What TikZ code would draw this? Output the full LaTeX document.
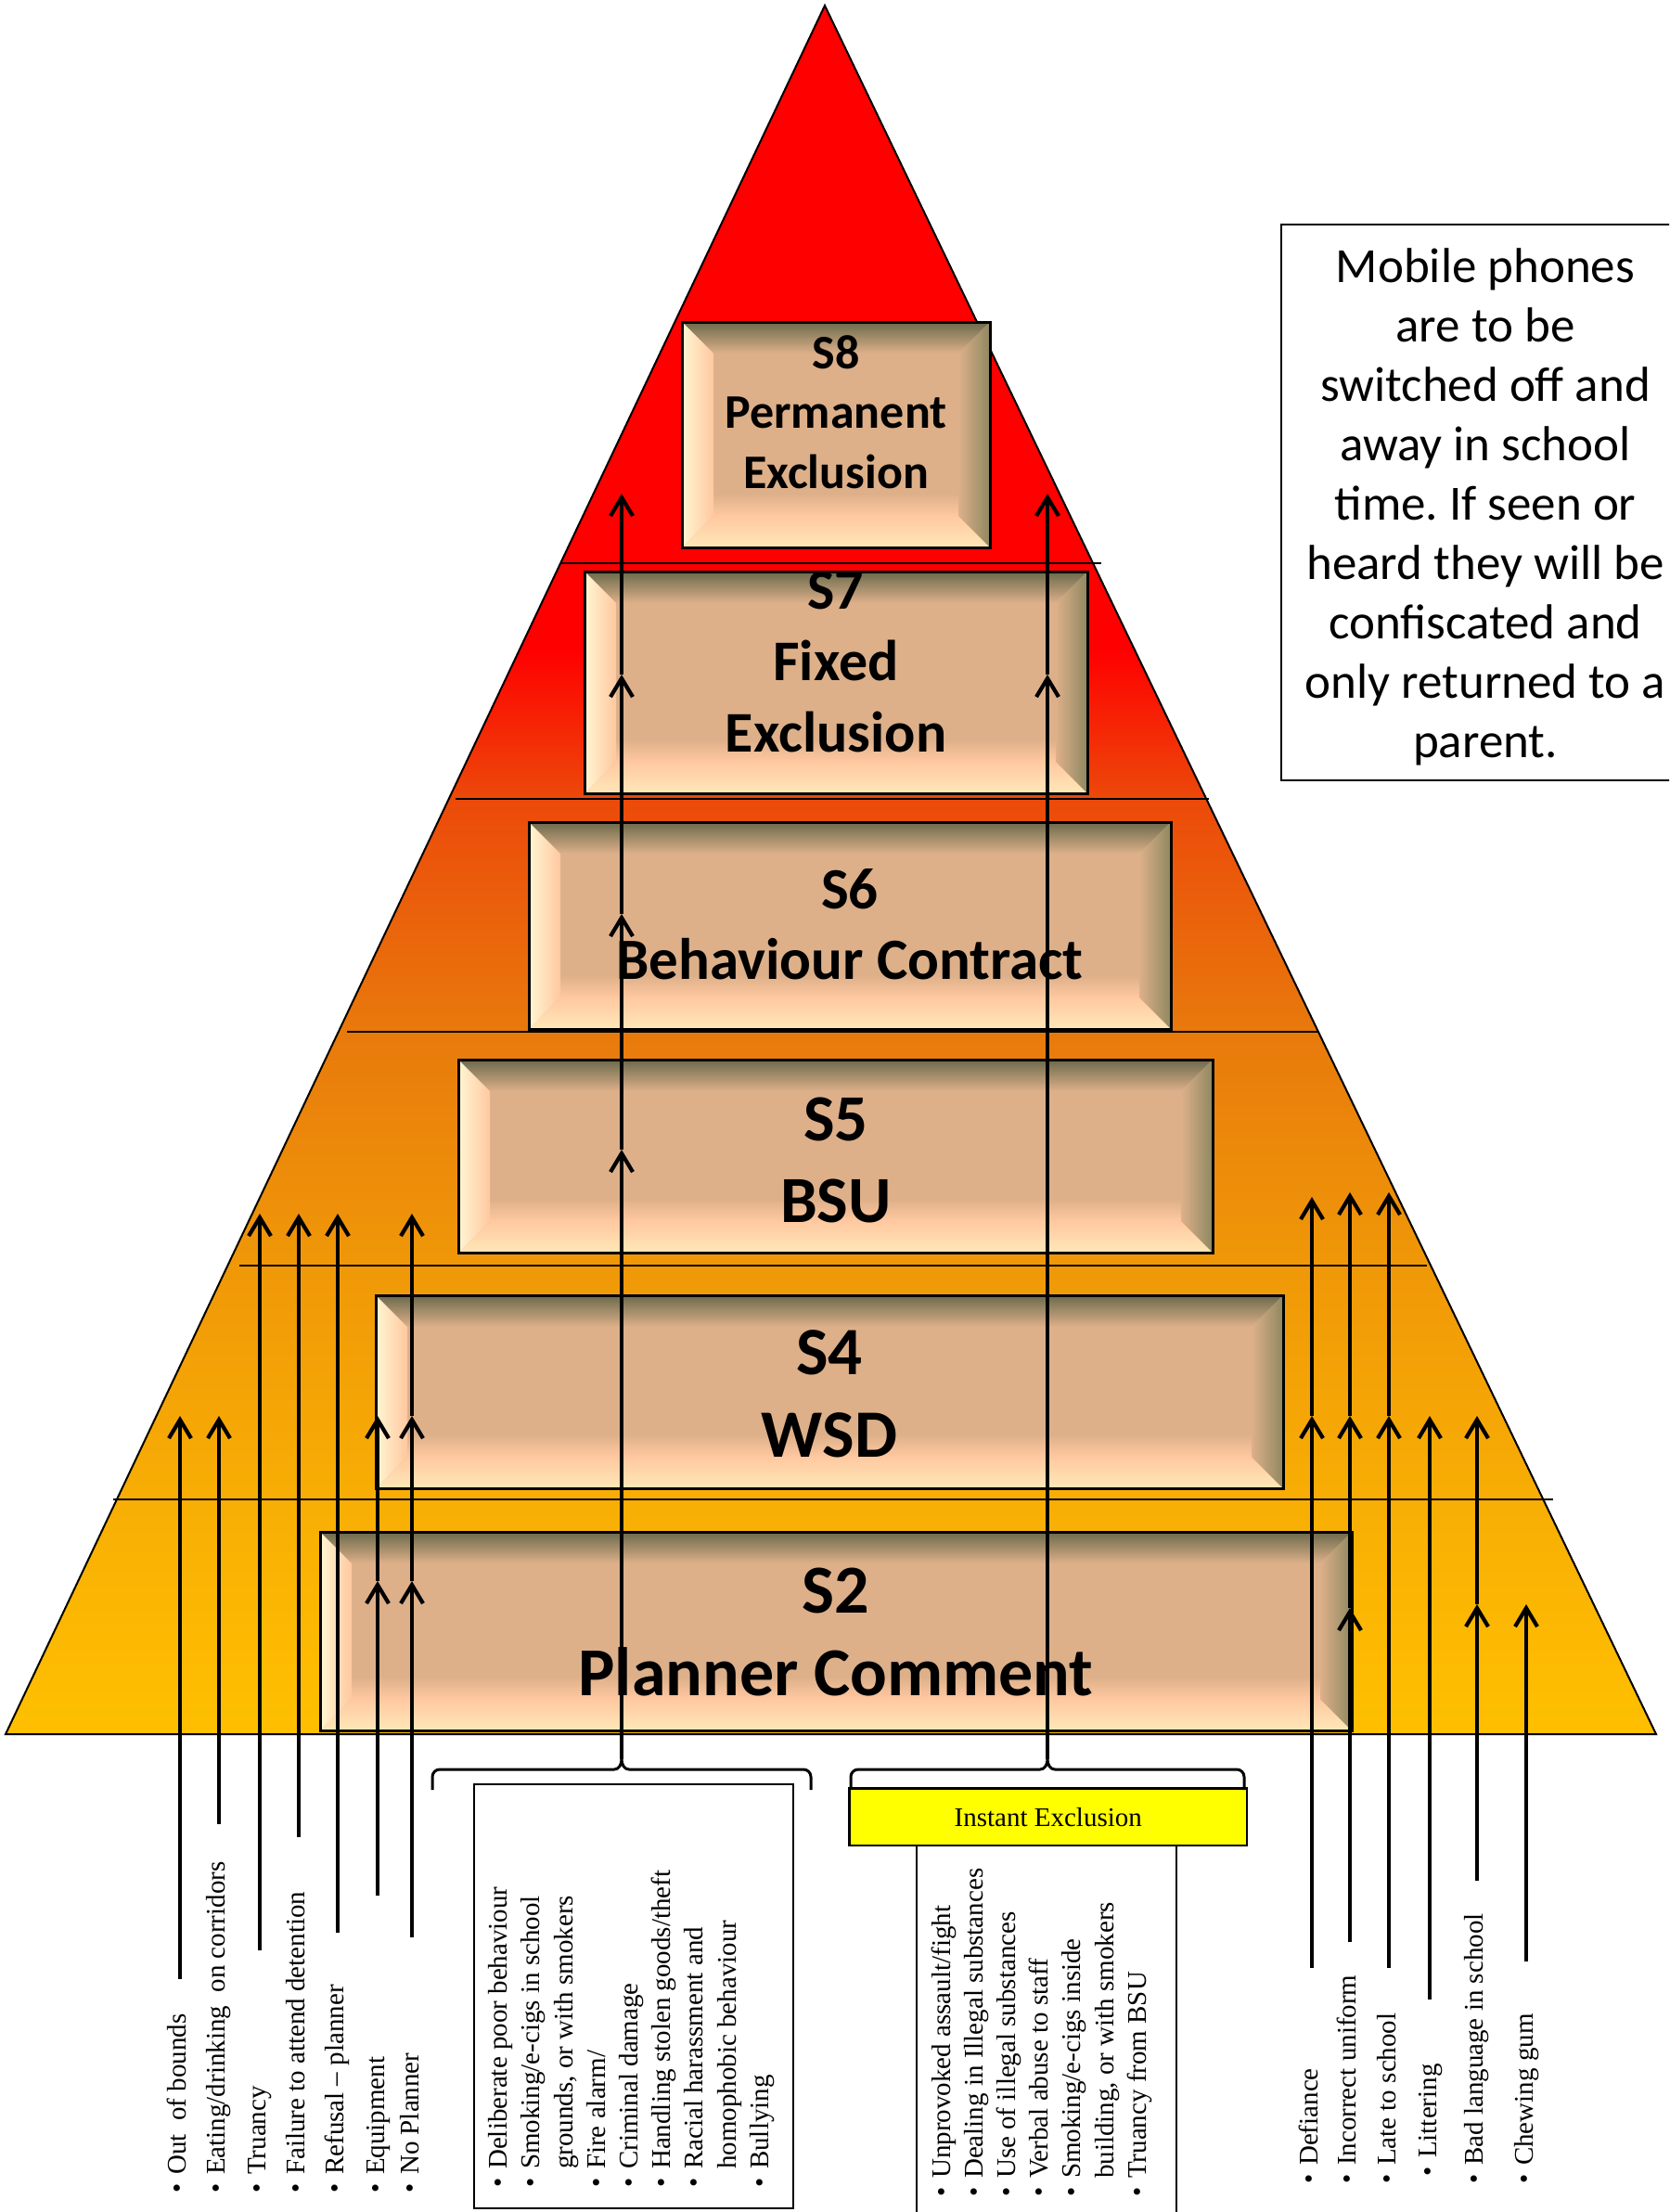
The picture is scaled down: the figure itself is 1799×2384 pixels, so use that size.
\documentclass[tikz,border=0pt]{standalone}
\usepackage{fontspec}
\setmainfont{Liberation Serif}
\newfontfamily\calfont{Carlito}
\usetikzlibrary{arrows.meta}
\frenchspacing
\definecolor{pyrA}{HTML}{FF0000}
\definecolor{pyrB}{HTML}{EC4A0A}
\definecolor{pyrC}{HTML}{E87A0C}
\definecolor{pyrD}{HTML}{F09808}
\definecolor{pyrE}{HTML}{F8AE04}
\definecolor{pyrF}{HTML}{FFC000}
\definecolor{boxtan}{HTML}{DDB08A}
\definecolor{bevtop}{HTML}{6B6A4C}
\definecolor{bevright}{HTML}{8E8860}
\definecolor{bevcream}{HTML}{FFF6D2}
\definecolor{bevpeach}{HTML}{FFC8A0}
\definecolor{bevbot}{HTML}{FFE8B8}
\definecolor{instyellow}{HTML}{FFFF00}
\newcommand{\bevel}[4]{%
  \fill[boxtan] (#1,#2) rectangle (#3,#4);
  \shade[top color=bevtop, bottom color=boxtan] (#1,#2) -- (#3,#2) -- (#3-34,#2+34) -- (#1+34,#2+34) -- cycle;
  \shade[top color=boxtan, bottom color=bevpeach] (#1+34,#4-58) rectangle (#3-34,#4-34);
  \shade[top color=bevpeach, bottom color=bevbot] (#1,#4) -- (#3,#4) -- (#3-34,#4-34) -- (#1+34,#4-34) -- cycle;
  \shade[left color=bevcream, right color=bevpeach] (#1,#2) -- (#1+34,#2+34) -- (#1+34,#4-34) -- (#1,#4) -- cycle;
  \shade[left color=boxtan, right color=bevright] (#3,#2) -- (#3-34,#2+34) -- (#3-34,#4-34) -- (#3,#4) -- cycle;
}
\newcommand{\lbul}{\strut\makebox[20pt][l]{\textbullet}}
\newcommand{\lind}{\strut\hspace*{20pt}}
\tikzset{
  boxframe/.style={draw, line width=3pt, inner sep=0pt},
  thinframe/.style={draw, line width=2pt, inner sep=0pt},
  stext/.style={align=center, inner sep=0pt},
  listtext/.style={rotate=90, anchor=north west, align=left, inner sep=0pt, font=\fontsize{29}{35.2}\selectfont},
  itemtext/.style={rotate=90, anchor=base west, inner sep=0pt, font=\fontsize{29}{35.2}\selectfont},
  arr/.style={line width=4.2pt, -{Straight Barb[length=20pt,width=24pt]}},
  divider/.style={line width=1.8pt},
  brace/.style={line width=3pt, line join=round},
}
\begin{document}
\begin{tikzpicture}[x=1pt,y=-1pt]
\useasboundingbox (0,0) rectangle (1799,2384);
\clip (0,0) rectangle (1799,2384);
\fill[white] (0,0) rectangle (1799,2384);
% pyramid
\coordinate (apex) at (889,6);
\coordinate (bl) at (6,1869);
\coordinate (br) at (1785,1869);
\begin{scope}
  \clip (apex) -- (bl) -- (br) -- cycle;
  \fill[pyrA] (0,0) rectangle (1799,701);
  \shade[top color=pyrA,bottom color=pyrB] (0,700) rectangle (1799,863);
  \shade[top color=pyrB,bottom color=pyrC] (0,862) rectangle (1799,1114);
  \shade[top color=pyrC,bottom color=pyrD] (0,1113) rectangle (1799,1365);
  \shade[top color=pyrD,bottom color=pyrE] (0,1364) rectangle (1799,1618);
  \shade[top color=pyrE,bottom color=pyrF] (0,1617) rectangle (1799,1870);
\end{scope}
\draw[line width=2pt] (apex) -- (bl) -- (br) -- cycle;
% dividers
\coordinate (d1l) at (605,607);  \coordinate (d1r) at (1187,607);
\coordinate (d2l) at (491,861);  \coordinate (d2r) at (1303,861);
\coordinate (d3l) at (374,1112); \coordinate (d3r) at (1422,1112);
\coordinate (d4l) at (258,1364); \coordinate (d4r) at (1538,1364);
\coordinate (d5l) at (122,1616); \coordinate (d5r) at (1674,1616);
\draw[divider] (d1l) -- (d1r);
\draw[divider] (d2l) -- (d2r);
\draw[divider] (d3l) -- (d3r);
\draw[divider] (d4l) -- (d4r);
\draw[divider] (d5l) -- (d5r);
% level boxes
\bevel{735}{347}{1067}{590}
\node[boxframe, minimum width=332pt, minimum height=243pt] (s8) at (901,468.5) {};
\node[stext, font=\calfont\bfseries\fontsize{52}{64.5}\selectfont] (s8t) at (901,448.6) {\strut S8\\\strut Permanent\\\strut Exclusion};
\bevel{630}{616}{1172}{855}
\node[boxframe, minimum width=542pt, minimum height=239pt] (s7) at (901,735.5) {};
\node[stext, font=\calfont\bfseries\fontsize{62}{77}\selectfont] (s7t) at (901,717.6) {\strut S7\\\strut Fixed\\\strut Exclusion};
\bevel{570}{886}{1262}{1109}
\node[boxframe, minimum width=692pt, minimum height=223pt] (s6) at (916,997.5) {};
\node[stext, font=\calfont\bfseries\fontsize{63}{76.6}\selectfont] (s6t) at (916,1002) {\strut S6\\\strut Behaviour Contract};
\bevel{494}{1142}{1307}{1350}
\node[boxframe, minimum width=813pt, minimum height=208pt] (s5) at (900.5,1246) {};
\node[stext, font=\calfont\bfseries\fontsize{71}{88}\selectfont] (s5t) at (901,1256) {\strut S5\\\strut BSU};
\bevel{405}{1396}{1383}{1604}
\node[boxframe, minimum width=978pt, minimum height=208pt] (s4) at (894,1500) {};
\node[stext, font=\calfont\bfseries\fontsize{73}{89}\selectfont] (s4t) at (894,1508) {\strut S4\\\strut WSD};
\bevel{345}{1651}{1457}{1865}
\node[boxframe, minimum width=1112pt, minimum height=214pt] (s2) at (901,1758) {};
\node[stext, font=\calfont\bfseries\fontsize{74}{89}\selectfont] (s2t) at (901,1764.7) {\strut S2\\\strut Planner Comment};
% mobile phones note
\node[draw, line width=2.5pt, inner sep=0pt, minimum width=441pt, minimum height=599pt] (mobile) at (1601.5,541.5) {};
\node[align=center, inner sep=0pt, font=\calfont\fontsize{53}{64}\selectfont] (mobilet) at (1601,547.5)
  {\strut Mobile phones\\\strut are to be\\\strut switched off and\\\strut away in school\\\strut time. If seen or\\\strut heard they will be\\\strut confiscated and\\\strut only returned to a\\\strut parent.};
% lower boxes
\node[thinframe, minimum width=344pt, minimum height=457.5pt] (dbox) at (683,2151.25) {};
\node[thinframe, minimum width=280pt, minimum height=420pt] (ibox) at (1128,2199) {};
\node[draw, fill=instyellow, line width=2.5pt, inner sep=0pt, minimum width=428.5pt, minimum height=61.3pt,
      font=\fontsize{29}{35}\selectfont] (inst) at (1129.75,1958.35) {Instant Exclusion};
% brackets
\coordinate (lbt) at (670,1896);
\coordinate (rbt) at (1129,1896);
\draw[brace] (466,1929) -- (466,1915) to[out=90,in=180] (474,1907) -- (662,1907) to[out=0,in=-90] (lbt)
  to[out=-90,in=180] (678,1907) -- (866,1907) to[out=0,in=90] (874,1915) -- (874,1929);
\draw[brace] (917,1929) -- (917,1915) to[out=90,in=180] (925,1907) -- (1121,1907) to[out=0,in=-90] (rbt)
  to[out=-90,in=180] (1137,1907) -- (1333,1907) to[out=0,in=90] (1341,1915) -- (1341,1929);
% lists
\node[listtext] (dlist) at (521.8,2358) {\lbul Deliberate poor behaviour\\\lbul Smoking/e-cigs in school\\\lind grounds, or with smokers\\\lbul Fire alarm/\\\lbul Criminal damage\\\lbul Handling stolen goods/theft\\\lbul Racial harassment and\\\lind homophobic behaviour\\\lbul Bullying};
\node[listtext] (ilist) at (999.3,2368) {\lbul Unprovoked assault/fight\\\lbul Dealing in Illegal substances\\\lbul Use of illegal substances\\\lbul Verbal abuse to staff\\\lbul Smoking/e-cigs inside\\\lind building, or with smokers\\\lbul Truancy from BSU};
\node[itemtext] (t1) at (200.5,2364) {\lbul Out\ \ of bounds};
\node[itemtext] (t2) at (242.5,2364) {\lbul Eating/drinking\ \ on corridors};
\node[itemtext] (t3) at (286.5,2364) {\lbul Truancy};
\node[itemtext] (t4) at (328.5,2364) {\lbul Failure to attend detention};
\node[itemtext] (t5) at (370.5,2364) {\lbul Refusal – planner};
\node[itemtext] (t6) at (414,2364) {\lbul Equipment};
\node[itemtext] (t7) at (451.5,2364) {\lbul No Planner};
\node[itemtext] (u1) at (1420.5,2354) {\lbul Defiance};
\node[itemtext] (u2) at (1461.5,2354) {\lbul Incorrect uniform};
\node[itemtext] (u3) at (1504.5,2354) {\lbul Late to school};
\node[itemtext] (u4) at (1548.5,2346) {\lbul Littering};
\node[itemtext] (u5) at (1598.5,2354) {\lbul Bad language in school};
\node[itemtext] (u6) at (1652.5,2354) {\lbul Chewing gum};
% central arrows
\coordinate (c1a) at (670,1239); \coordinate (c1b) at (670,985);
\coordinate (c1c) at (670,727);  \coordinate (c1d) at (670,532);
\draw[arr] (lbt) -- (c1a);
\draw[arr] (c1a) -- (c1b);
\draw[arr] (c1b) -- (c1c);
\draw[arr] (c1c) -- (c1d);
\coordinate (c2c) at (1129,727); \coordinate (c2d) at (1129,532);
\draw[arr] (rbt) -- (c2c);
\draw[arr] (c2c) -- (c2d);
% left arrows
\coordinate (a1b) at (194,2133); \coordinate (a1t) at (194,1526);
\coordinate (a2b) at (236,1966); \coordinate (a2t) at (236,1526);
\coordinate (a3b) at (280,2102); \coordinate (a3t) at (280,1308);
\coordinate (a4b) at (322,1980); \coordinate (a4t) at (322,1308);
\coordinate (a5b) at (364,2083); \coordinate (a5t) at (364,1308);
\coordinate (a6b) at (407,2043); \coordinate (a6m) at (407,1704); \coordinate (a6t) at (407,1526);
\coordinate (a7b) at (444,2088); \coordinate (a7m) at (444,1704); \coordinate (a7n) at (444,1526); \coordinate (a7t) at (444,1308);
\draw[arr] (a1b) -- (a1t);
\draw[arr] (a2b) -- (a2t);
\draw[arr] (a3b) -- (a3t);
\draw[arr] (a4b) -- (a4t);
\draw[arr] (a5b) -- (a5t);
\draw[arr] (a6b) -- (a6m);
\draw[arr] (a6m) -- (a6t);
\draw[arr] (a7b) -- (a7m);
\draw[arr] (a7m) -- (a7n);
\draw[arr] (a7n) -- (a7t);
% right arrows
\coordinate (b1b) at (1414,2121); \coordinate (b1m) at (1414,1526); \coordinate (b1t) at (1414,1290);
\coordinate (b2b) at (1455,2093); \coordinate (b2m) at (1455,1733); \coordinate (b2n) at (1455,1526); \coordinate (b2t) at (1455,1285);
\coordinate (b3b) at (1497,2121); \coordinate (b3m) at (1497,1526); \coordinate (b3t) at (1497,1285);
\coordinate (b4b) at (1541,2155); \coordinate (b4t) at (1541,1526);
\coordinate (b5b) at (1592,2027); \coordinate (b5m) at (1592,1729); \coordinate (b5t) at (1592,1526);
\coordinate (b6b) at (1645,2114); \coordinate (b6t) at (1645,1729);
\draw[arr] (b1b) -- (b1m);
\draw[arr] (b1m) -- (b1t);
\draw[arr] (b2b) -- (b2m);
\draw[arr] (b2m) -- (b2n);
\draw[arr] (b2n) -- (b2t);
\draw[arr] (b3b) -- (b3m);
\draw[arr] (b3m) -- (b3t);
\draw[arr] (b4b) -- (b4t);
\draw[arr] (b5b) -- (b5m);
\draw[arr] (b5m) -- (b5t);
\draw[arr] (b6b) -- (b6t);
\end{tikzpicture}
\end{document}
